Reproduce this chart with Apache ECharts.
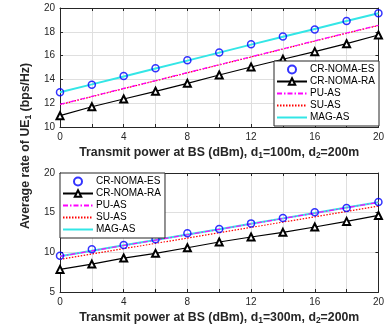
<!DOCTYPE html>
<html><head><meta charset="utf-8">
<script src="https://cdn.jsdelivr.net/npm/echarts@6/dist/echarts.min.js"></script>
<style>html,body{margin:0;padding:0;background:#fff}#c{width:387px;height:329px}</style>
</head><body><div id="c"></div>
<script>
const xVals = [0, 2, 4, 6, 8, 10, 12, 14, 16, 18, 20];
const seriesNames = ['CR-NOMA-ES', 'CR-NOMA-RA', 'PU-AS', 'SU-AS', 'MAG-AS'];
// top panel: d1=100m, d2=200m
const topES  = [12.92, 13.56, 14.29, 14.93, 15.60, 16.27, 16.95, 17.60, 18.20, 18.90, 19.55];
const topRA  = [10.95, 11.70, 12.35, 13.00, 13.67, 14.37, 15.04, 15.69, 16.33, 17.00, 17.73];
const topPU  = [11.90, 12.57, 13.24, 13.90, 14.57, 15.24, 15.90, 16.57, 17.24, 17.90, 18.55];
const topSU  = [11.88, 12.55, 13.22, 13.88, 14.55, 15.22, 15.88, 16.55, 17.22, 17.88, 18.53];
const topMAG = [12.92, 13.58, 14.25, 14.92, 15.58, 16.25, 16.92, 17.58, 18.24, 18.90, 19.56];
// bottom panel: d1=300m, d2=200m
const botES  = [9.57, 10.38, 10.92, 11.64, 12.40, 12.94, 13.65, 14.33, 15.04, 15.59, 16.34];
const botRA  = [7.85, 8.52, 9.28, 9.87, 10.58, 11.30, 11.93, 12.52, 13.19, 13.90, 14.65];
const botPU  = [9.50, 10.18, 10.86, 11.54, 12.22, 12.90, 13.58, 14.26, 14.94, 15.62, 16.30];
const botSU  = [9.12, 9.79, 10.46, 11.13, 11.80, 12.47, 13.14, 13.81, 14.48, 15.15, 15.82];
const botMAG = [9.52, 10.20, 10.88, 11.56, 12.24, 12.92, 13.60, 14.28, 14.96, 15.64, 16.32];
const xTicks = [0, 4, 8, 12, 16, 20];
const topYTicks = [10, 12, 14, 16, 18, 20];
const botYTicks = [5, 10, 15, 20];

const FONT = 'Liberation Sans, Arial, sans-serif';
const pair = a => xVals.map((x, i) => [x, a[i]]);

function xAxisMain(gi, d1) {
  return {
    type: 'value', gridIndex: gi, min: 0, max: 20, interval: 2, position: 'bottom',
    axisLine: {show: true, onZero: false, lineStyle: {color: '#262626', width: 1}},
    axisTick: {show: true, inside: true, length: 3, lineStyle: {color: '#262626'}},
    axisLabel: {color: '#262626', fontSize: 10, fontFamily: FONT, margin: 5,
      formatter: v => (xTicks.indexOf(v) >= 0 ? String(v) : '')},
    splitLine: {show: true, lineStyle: {color: '#dfdfdf', width: 1}},
    name: '{b|Transmit power at BS (dBm), d}{s|1}{b|=' + d1 + 'm, d}{s|2}{b|=200m}',
    nameLocation: 'middle', nameGap: 18,
    nameTextStyle: {rich: {
      b: {fontSize: 12.3, fontWeight: 'bold', fontFamily: FONT, color: '#262626'},
      s: {fontSize: 8.5, fontWeight: 'bold', fontFamily: FONT, color: '#262626', padding: [6, 0, 0, 0]}
    }}
  };
}
function xAxisTop(gi) {
  return {
    type: 'value', gridIndex: gi, min: 0, max: 20, interval: 2, position: 'top',
    axisLine: {show: true, onZero: false, lineStyle: {color: '#262626', width: 1}},
    axisTick: {show: true, inside: true, length: 3, lineStyle: {color: '#262626'}},
    axisLabel: {show: false}, splitLine: {show: false}
  };
}
function yAxisMain(gi, min, max, iv, ticks) {
  return {
    type: 'value', gridIndex: gi, min: min, max: max, interval: iv, position: 'left',
    axisLine: {show: true, onZero: false, lineStyle: {color: '#262626', width: 1}},
    axisTick: {show: true, inside: true, length: 3, lineStyle: {color: '#262626'}},
    axisLabel: {color: '#262626', fontSize: 10, fontFamily: FONT, margin: 5,
      formatter: v => (ticks.indexOf(v) >= 0 ? String(v) : '')},
    splitLine: {show: true, lineStyle: {color: '#dfdfdf', width: 1}}
  };
}
function yAxisRight(gi, min, max, iv) {
  return {
    type: 'value', gridIndex: gi, min: min, max: max, interval: iv, position: 'right',
    axisLine: {show: true, onZero: false, lineStyle: {color: '#262626', width: 1}},
    axisTick: {show: true, inside: true, length: 3, lineStyle: {color: '#262626'}},
    axisLabel: {show: false}, splitLine: {show: false}
  };
}
function makeSeries(gi, es, ra, pu, su, mag) {
  const xi = gi * 2, yi = gi * 2;
  return [
    {name: seriesNames[3], type: 'line', xAxisIndex: xi, yAxisIndex: yi, data: pair(su), symbol: 'none',
      lineStyle: {color: '#ff0000', width: 1.2, type: [1.5, 1.5]}, itemStyle: {color: '#ff0000'}, z: 2},
    {name: seriesNames[4], type: 'line', xAxisIndex: xi, yAxisIndex: yi, data: pair(mag), symbol: 'none',
      lineStyle: {color: '#33e6e6', width: 2}, itemStyle: {color: '#33e6e6'}, z: 3},
    {name: seriesNames[2], type: 'line', xAxisIndex: xi, yAxisIndex: yi, data: pair(pu), symbol: 'none',
      lineStyle: {color: '#ff00ff', width: 1.2, type: [5, 2, 1.5, 2]}, itemStyle: {color: '#ff00ff'}, z: 4},
    {name: seriesNames[1], type: 'line', xAxisIndex: xi, yAxisIndex: yi, data: pair(ra), symbol: 'emptyTriangle',
      symbolSize: 7, showAllSymbol: true,
      lineStyle: {color: '#000000', width: 1.2}, itemStyle: {color: '#000000', borderWidth: 1.3}, z: 5},
    {name: seriesNames[0], type: 'scatter', xAxisIndex: xi, yAxisIndex: yi, data: pair(es), symbol: 'circle',
      symbolSize: 7, itemStyle: {color: 'rgba(0,0,0,0)', borderColor: '#0000ff', borderWidth: 1.5}, z: 6}
  ];
}
const legendData = [
  {name: seriesNames[0]},
  {name: seriesNames[1]},
  {name: seriesNames[2], itemStyle: {opacity: 0}},
  {name: seriesNames[3], itemStyle: {opacity: 0}},
  {name: seriesNames[4], itemStyle: {opacity: 0}}
];
function legend(pos) {
  return Object.assign({
    orient: 'vertical', data: legendData, itemWidth: 30, itemHeight: 8, itemGap: 1,
    padding: [3, 4, 3, 2], backgroundColor: '#ffffff', borderColor: '#262626', borderWidth: 1,
    textStyle: {fontSize: 10, lineHeight: 11, fontFamily: FONT, color: '#000', padding: [0, 0, 0, -2]},
    selectedMode: false, z: 10
  }, pos);
}

const chart = echarts.init(document.getElementById('c'), null, {renderer: 'canvas'});
chart.setOption({
  animation: false,
  backgroundColor: '#ffffff',
  grid: [
    {left: 60, right: 8, top: 8, height: 119},
    {left: 60, right: 8, top: 173, height: 119}
  ],
  xAxis: [xAxisMain(0, 100), xAxisTop(0), xAxisMain(1, 300), xAxisTop(1)],
  yAxis: [yAxisMain(0, 10, 20, 2, topYTicks), yAxisRight(0, 10, 20, 2),
          yAxisMain(1, 5, 20, 5, botYTicks), yAxisRight(1, 5, 20, 5)],
  legend: [
    legend({right: 8, top: 61}),
    legend({left: 60, top: 173})
  ],
  graphic: [{
    type: 'text', x: 26, y: 146, rotation: Math.PI / 2, z: 100,
    style: {
      text: '{b|Average rate of UE}{s|1}{b| (bps/Hz)}',
      align: 'center', verticalAlign: 'middle',
      rich: {
        b: {fontSize: 12.3, fontWeight: 'bold', fontFamily: FONT, fill: '#262626'},
        s: {fontSize: 8.5, fontWeight: 'bold', fontFamily: FONT, fill: '#262626', padding: [6, 0, 0, 0]}
      }
    }
  }],
  series: [].concat(
    makeSeries(0, topES, topRA, topPU, topSU, topMAG),
    makeSeries(1, botES, botRA, botPU, botSU, botMAG)
  )
});
</script></body></html>
